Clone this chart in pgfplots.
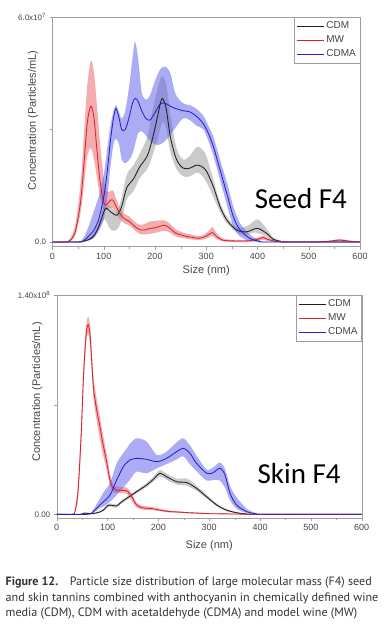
\documentclass[border=0pt]{standalone}
\usepackage{pgfplots}
\pgfplotsset{compat=1.18}
\usepackage{pgfplotstable}
\usepgfplotslibrary{fillbetween}
\usepackage{fontspec}
\setmainfont{Liberation Sans}
\newfontfamily\calfont{Carlito}
\newfontfamily\capfont{PT Sans}
\definecolor{cdmline}{RGB}{30,30,30}
\definecolor{cdmband}{RGB}{150,150,150}
\definecolor{mwline}{RGB}{215,35,45}
\definecolor{mwband}{RGB}{235,90,95}
\definecolor{cdmaline}{RGB}{35,35,200}
\definecolor{cdmaband}{RGB}{90,90,235}
\definecolor{txt}{RGB}{70,70,70}
\definecolor{captxt}{RGB}{50,50,50}

% ---------- Seed F4 (units of 1e7 particles/mL) ----------
\pgfplotstableread{
x y lo hi
0 0 0 0
25 0 0 0.01
35 0.05 0.02 0.1
45 0.3 0.2 0.5
55 1.1 0.8 1.6
62 2.2 1.6 3.0
68 3.2 2.3 4.2
75 3.62 2.5 4.84
81 3.3 2.2 4.5
87 2.4 1.7 3.6
93 1.6 1.2 2.6
100 1.05 0.85 1.7
106 1.0 0.85 1.35
112 1.1 0.92 1.35
118 1.12 0.9 1.38
124 0.95 0.78 1.15
132 0.75 0.6 0.9
140 0.62 0.5 0.75
150 0.55 0.44 0.68
160 0.42 0.32 0.54
170 0.33 0.22 0.46
180 0.32 0.2 0.48
190 0.36 0.22 0.55
200 0.38 0.24 0.56
210 0.42 0.28 0.58
218 0.45 0.3 0.58
228 0.38 0.26 0.5
240 0.24 0.15 0.34
255 0.17 0.1 0.25
270 0.13 0.07 0.2
285 0.1 0.05 0.16
295 0.13 0.07 0.19
305 0.2 0.12 0.3
312 0.25 0.16 0.4
320 0.15 0.08 0.24
332 0.05 0.02 0.1
350 0.03 0.0 0.06
380 0.03 0.0 0.06
400 0.07 0.03 0.11
410 0.12 0.06 0.17
420 0.07 0.03 0.12
440 0.01 0 0.03
480 0 0 0.01
530 0.01 0 0.02
560 0.05 0.02 0.08
580 0.02 0 0.04
600 0 0 0.01
}\seedMW
\pgfplotstableread{
x y lo hi
0 0 0 0
50 0 0 0
60 0.02 0.01 0.04
70 0.06 0.03 0.1
80 0.15 0.1 0.22
90 0.4 0.3 0.5
100 0.8 0.6 0.95
105 0.9 0.55 1.0
112 0.82 0.35 0.95
120 0.74 0.3 0.85
127 0.72 0.35 0.82
135 0.95 0.6 1.2
145 1.45 1.15 1.8
158 1.68 1.35 2.05
170 2.0 1.7 2.35
185 2.3 1.95 2.8
195 2.75 2.3 3.5
205 3.35 2.75 4.1
212 3.78 3.1 4.4
216 3.8 3.2 4.4
222 3.55 3.0 4.2
230 2.8 2.4 3.4
242 2.2 1.95 2.5
255 1.97 1.75 2.2
268 1.97 1.75 2.3
281 2.05 1.85 2.53
290 2.02 1.8 2.5
300 1.9 1.6 2.3
314 1.47 1.2 1.65
327 0.94 0.8 1.05
340 0.59 0.5 0.68
359 0.32 0.25 0.4
379 0.27 0.2 0.42
392 0.34 0.25 0.55
402 0.36 0.23 0.6
418 0.23 0.15 0.35
431 0.07 0.04 0.12
445 0.02 0 0.04
460 0 0 0.01
600 0 0 0
}\seedCDM
\pgfplotstableread{
x y lo hi
0 0 0 0
50 0 0 0.02
60 0.03 0 0.1
70 0.15 0.05 0.4
80 0.3 0.1 0.8
90 0.6 0.3 1.2
100 1.2 0.6 1.8
107 1.9 1.2 2.5
113 2.7 2.0 3.1
119 3.3 2.6 3.5
124 3.56 2.75 3.65
130 3.3 2.6 3.45
135 3.0 2.2 3.3
142 3.0 2.1 3.5
150 3.35 2.2 4.2
156 3.7 2.35 4.9
161 3.83 2.6 5.34
167 3.75 2.9 4.9
174 3.5 2.95 4.0
182 3.3 2.85 3.8
190 3.25 2.7 3.9
200 3.45 2.6 4.3
210 3.68 2.6 4.6
220 3.7 2.7 4.68
230 3.62 2.85 4.5
240 3.56 3.05 3.95
255 3.5 3.3 3.7
268 3.47 3.25 3.65
281 3.35 3.1 3.55
294 3.16 3.01 3.37
304 2.9 2.7 3.1
314 2.54 2.3 2.8
327 1.92 1.65 2.19
340 1.3 1.0 1.6
353 0.67 0.41 0.94
366 0.32 0.15 0.5
385 0.1 0.03 0.2
405 0.01 0 0.05
420 0 0 0.01
600 0 0 0
}\seedCDMA

% ---------- Skin F4 (units of 1e7 particles/mL) ----------
\pgfplotstableread{
x y lo hi
0 0 0 0
30 0 0 0.02
36 0.2 0.1 0.3
42 1.5 1.0 2.0
48 5.0 4.3 5.7
53 9.0 8.3 9.7
58 11.5 11.0 12.1
62 12.1 11.5 12.6
66 11.3 10.6 11.9
72 8.2 7.5 8.9
78 6.8 6.1 7.5
85 5.6 4.8 6.2
91 4.5 3.8 5.1
98 3.4 2.9 3.9
104 2.3 1.9 2.7
110 1.7 1.45 2.0
116 1.55 1.35 1.8
126 1.52 1.35 1.75
138 1.5 1.3 1.7
148 1.1 0.85 1.3
157 0.6 0.45 0.75
168 0.42 0.3 0.55
180 0.38 0.27 0.5
190 0.35 0.25 0.45
203 0.27 0.2 0.35
220 0.18 0.12 0.25
236 0.15 0.1 0.2
260 0.1 0.06 0.14
275 0.08 0.04 0.12
300 0.04 0.02 0.07
350 0.02 0 0.04
400 0 0 0.02
600 0 0 0
}\skinMW
\pgfplotstableread{
x y lo hi
0 0 0 0
45 0 0 0.02
55 0.08 0.03 0.12
62 0.05 0.02 0.09
72 0.05 0.02 0.08
85 0.15 0.1 0.2
92 0.27 0.2 0.35
100 0.55 0.45 0.65
105 0.59 0.5 0.7
112 0.55 0.45 0.65
118 0.53 0.43 0.63
128 0.8 0.7 0.9
138 1.02 0.92 1.12
157 1.44 1.34 1.54
177 1.87 1.75 2.0
190 2.23 2.08 2.38
203 2.62 2.42 2.82
216 2.4 2.2 2.6
236 2.08 1.9 2.28
256 2.02 1.82 2.28
275 1.66 1.5 1.82
295 1.12 1.0 1.24
315 0.59 0.5 0.68
334 0.27 0.2 0.34
354 0.1 0.05 0.15
374 0.02 0 0.05
390 0 0 0.01
600 0 0 0
}\skinCDM
\pgfplotstableread{
x y lo hi
0 0 0 0
60 0 0 0.02
72 0.17 0.1 0.3
85 0.6 0.4 1.0
92 0.8 0.5 1.4
105 1.23 0.8 2.0
118 2.19 1.23 3.26
131 3.04 1.7 3.9
138 3.3 1.98 4.21
144 3.47 2.2 4.5
157 3.57 2.72 4.85
177 3.51 2.62 4.64
197 3.36 2.94 3.79
216 3.57 3.2 4.0
236 4.0 3.5 4.6
249 4.21 3.7 4.85
262 3.9 3.2 4.4
275 3.26 2.75 3.75
295 2.62 2.15 2.85
308 2.66 2.2 3.0
321 2.94 2.15 3.3
331 2.51 1.7 2.9
341 1.34 0.9 1.8
354 0.59 0.35 1.08
374 0.17 0.08 0.35
393 0.02 0 0.08
410 0 0 0.01
600 0 0 0
}\skinCDMA

\pgfplotsset{
  legend image code/.code={\draw[#1] (0pt,0pt) -- (27pt,0pt);},
  panel/.style={
    scale only axis,
    xmin=0, xmax=600,
    xtick={0,100,...,600},
    minor x tick num=1,
    tick pos=left,
    tick align=outside,
    major tick length=3pt,
    minor tick length=2pt,
    axis line style={gray!75},
    tick style={gray!75},
    tick label style={font=\fontsize{9}{10}\selectfont, text=txt},
    /pgf/number format/assume math mode=true,
    xlabel={Size (nm)},
    ylabel={Concentration (Particles/mL)},
    label style={font=\fontsize{11}{12}\selectfont, text=txt},
    legend cell align=left,
    legend style={at={(1,1)}, anchor=north east, draw=gray!75,
      font=\fontsize{10}{11}\selectfont, text=txt,
      row sep=1.6pt, inner xsep=2pt, inner ysep=2.5pt},
  },
}

\begin{document}
\begin{tikzpicture}
% ---------------- Seed F4 ----------------
\begin{axis}[panel,
  at={(52.5pt,384.3pt)}, anchor=south west,
  width=307.5pt, height=229.7pt,
  ymin=-0.125, ymax=6,
  ytick={0,3,6},
  yticklabels={0.0,,{6.0x10\textsuperscript{7}}},
  yticklabel style={font=\fontsize{8}{9}\selectfont},
  xlabel style={at={(axis description cs:0.5,-0.103)}, anchor=center},
  ylabel style={at={(axis description cs:-0.035,0.55)}, anchor=south},
]
\addplot[name path=mwh, draw=none, smooth, forget plot] table[x=x,y=hi]{\seedMW};
\addplot[name path=mwl, draw=none, smooth, forget plot] table[x=x,y=lo]{\seedMW};
\addplot[draw=none, fill=mwband, fill opacity=0.5, forget plot] fill between[of=mwh and mwl];
\addplot[name path=cdmh, draw=none, smooth, forget plot] table[x=x,y=hi]{\seedCDM};
\addplot[name path=cdml, draw=none, smooth, forget plot] table[x=x,y=lo]{\seedCDM};
\addplot[draw=none, fill=cdmband, fill opacity=0.5, forget plot] fill between[of=cdmh and cdml];
\addplot[name path=cah, draw=none, smooth, forget plot] table[x=x,y=hi]{\seedCDMA};
\addplot[name path=cal, draw=none, smooth, forget plot] table[x=x,y=lo]{\seedCDMA};
\addplot[draw=none, fill=cdmaband, fill opacity=0.5, forget plot] fill between[of=cah and cal];
\addplot[cdmline, line width=0.85pt, smooth] table[x=x,y=y]{\seedCDM};
\addplot[mwline, line width=0.85pt, smooth] table[x=x,y=y]{\seedMW};
\addplot[cdmaline, line width=0.85pt, smooth] table[x=x,y=y]{\seedCDMA};
\legend{CDM,MW,CDMA}
\node[anchor=base, font=\calfont\fontsize{29}{30}\selectfont] at (axis cs:484.5,0.9) {Seed F4};
\end{axis}

% ---------------- Skin F4 ----------------
\begin{axis}[panel,
  at={(56.7pt,113pt)}, anchor=south west,
  width=305pt, height=223pt,
  ymin=-0.236, ymax=14,
  ytick={0,7,14},
  yticklabels={0.00,,{1.40x10\textsuperscript{8}}},
  yticklabel style={font=\fontsize{8}{9}\selectfont},
  xlabel style={at={(axis description cs:0.5,-0.126)}, anchor=center},
  ylabel style={at={(axis description cs:-0.035,0.565)}, anchor=south},
]
\addplot[name path=mwh, draw=none, smooth, forget plot] table[x=x,y=hi]{\skinMW};
\addplot[name path=mwl, draw=none, smooth, forget plot] table[x=x,y=lo]{\skinMW};
\addplot[draw=none, fill=mwband, fill opacity=0.5, forget plot] fill between[of=mwh and mwl];
\addplot[name path=cdmh, draw=none, smooth, forget plot] table[x=x,y=hi]{\skinCDM};
\addplot[name path=cdml, draw=none, smooth, forget plot] table[x=x,y=lo]{\skinCDM};
\addplot[draw=none, fill=cdmband, fill opacity=0.5, forget plot] fill between[of=cdmh and cdml];
\addplot[name path=cah, draw=none, smooth, forget plot] table[x=x,y=hi]{\skinCDMA};
\addplot[name path=cal, draw=none, smooth, forget plot] table[x=x,y=lo]{\skinCDMA};
\addplot[draw=none, fill=cdmaband, fill opacity=0.5, forget plot] fill between[of=cah and cal];
\addplot[cdmline, line width=0.85pt, smooth] table[x=x,y=y]{\skinCDM};
\addplot[mwline, line width=0.85pt, smooth] table[x=x,y=y]{\skinMW};
\addplot[cdmaline, line width=0.85pt, smooth] table[x=x,y=y]{\skinCDMA};
\legend{CDM,MW,CDMA}
\node[anchor=base, font=\calfont\fontsize{29}{30}\selectfont] at (axis cs:477,1.98) {Skin F4};
\end{axis}

% ---------------- caption ----------------
\begin{scope}[every node/.style={anchor=base west, inner sep=0pt, text=captxt,
  font=\capfont\fontsize{12.1}{14}\selectfont}]
\node at (5.5pt,45pt) {\textbf{Figure 12.}\hspace{0.6em} Particle size distribution of large molecular mass (F4) seed};
\node at (5.5pt,29.5pt) {and skin tannins combined with anthocyanin in chemically defined wine};
\node at (5.5pt,14pt) {media (CDM), CDM with acetaldehyde (CDMA) and model wine (MW)};
\end{scope}
\pgfresetboundingbox
\useasboundingbox (0pt,0pt) rectangle (389pt,631pt);
\end{tikzpicture}
\end{document}
